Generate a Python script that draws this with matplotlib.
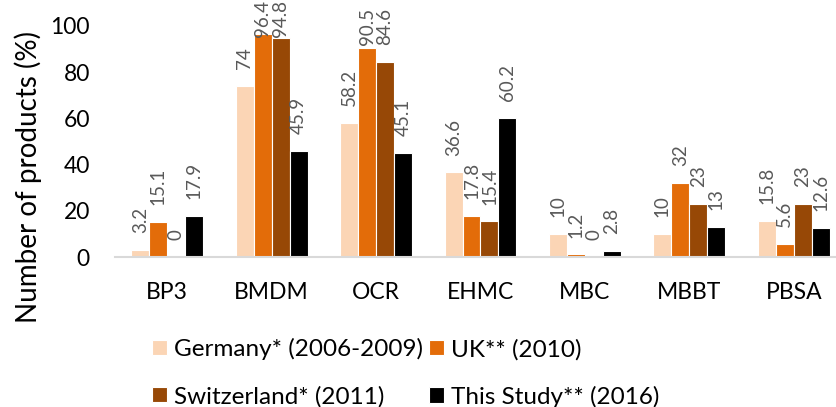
import matplotlib
matplotlib.use("Agg")
import matplotlib.pyplot as plt
import numpy as np

plt.rcParams['font.family'] = ['Lato', 'DejaVu Sans']

categories = ["BP3", "BMDM", "OCR", "EHMC", "MBC", "MBBT", "PBSA"]
series_names = ["Germany* (2006-2009)", "UK** (2010)", "Switzerland* (2011)", "This Study** (2016)"]
germany = [3.2, 74, 58.2, 36.6, 10, 10, 15.8]
uk = [15.1, 96.4, 90.5, 17.8, 1.2, 32, 5.6]
switzerland = [0, 94.8, 84.6, 15.4, 0, 23, 23]
this_study = [17.9, 45.9, 45.1, 60.2, 2.8, 13, 12.6]
yticks = [0, 20, 40, 60, 80, 100]

series = [germany, uk, switzerland, this_study]
colors = ["#FBD5B5", "#E36C09", "#974806", "#000000"]

W, H = 837, 407
DPI = 100
fig = plt.figure(figsize=(W / DPI, H / DPI), dpi=DPI)
ax = fig.add_axes([115 / W, (H - 257) / H, 731 / W, (257 - 26) / H])

x = np.arange(len(categories))
bw = 0.172
handles = []
labels = []
for i, (vals, col) in enumerate(zip(series, colors)):
    pos = x + (i - 1.5) * bw
    bars = ax.bar(pos, vals, width=bw, color=col, edgecolor="white", linewidth=0.8,
                  label=series_names[i])
    handles.append(bars)
    for px, v in zip(pos, vals):
        ann = ax.annotate(f"{v:g}", xy=(px, v), xytext=(0, 12), textcoords="offset points",
                          rotation=90, ha="center", va="bottom", fontsize=13.5,
                          color="#595959", annotation_clip=False)
        labels.append((ann, px, v))

ax.set_xlim(-0.5, len(categories) - 0.5)
ax.set_ylim(0, 100)
ax.set_yticks(yticks)
ax.set_xticks(x)
ax.set_xticklabels(categories)
ax.tick_params(axis="x", length=0, pad=18, labelsize=16.5)
ax.tick_params(axis="y", length=0, pad=18, labelsize=16.5)
for s in ["top", "right", "left"]:
    ax.spines[s].set_visible(False)
ax.spines["bottom"].set_color("#D9D9D9")
ax.spines["bottom"].set_linewidth(1.5)

fig.text(28 / W, 1 - 177 / H, "Number of products (%)", rotation=90,
         ha="center", va="center", fontsize=20)

order = [0, 2, 1, 3]
fig.legend([handles[k] for k in order], [series_names[k] for k in order],
           ncol=2, loc="upper left", bbox_to_anchor=(152 / W, 1 - 338 / H),
           frameon=False, fontsize=17.5, handlelength=0.62, handleheight=0.62,
           handletextpad=0.29, columnspacing=0.25, labelspacing=1.05,
           borderpad=0, borderaxespad=0)

# Value labels that would run past the top edge sit close to their bar instead
fig.canvas.draw()
renderer = fig.canvas.get_renderer()
for ann, px, v in labels:
    bb = ann.get_window_extent(renderer)
    if bb.y1 > H:
        bar_top = ax.transData.transform((px, v))[1]
        bottom = min(bar_top + 3, H - bb.height)
        ann.set_position((0, (bottom - bar_top) * 72 / DPI))

fig.savefig("out.png", dpi=DPI)
